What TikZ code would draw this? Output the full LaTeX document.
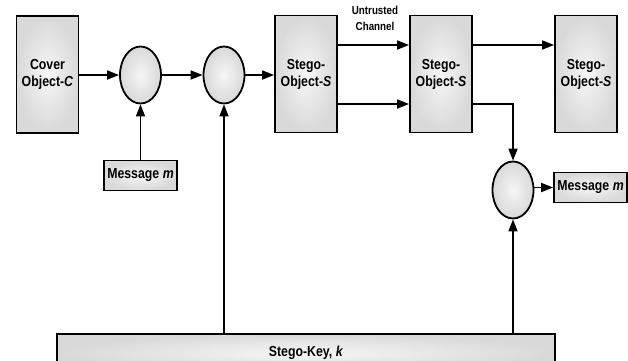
\documentclass[tikz,border=0pt]{standalone}
\usepackage{fontspec}
\setmainfont{Liberation Sans}[FakeStretch=0.85]
\usetikzlibrary{arrows.meta,shapes.geometric,calc}
\tikzset{
  base/.style={draw=black, line width=1.8pt, inner color=gray!7, outer color=gray!30,
    font=\fontsize{14.5}{17}\selectfont\bfseries, align=center, inner sep=0pt},
  tallbox/.style={base, rectangle, minimum width=62pt, minimum height=117pt},
  msgbox/.style={base, rectangle, minimum width=73pt, minimum height=30pt},
  joint/.style={base, ellipse, minimum width=41pt, minimum height=57pt},
  keybar/.style={base, rectangle, minimum width=498pt, minimum height=38pt},
  conn/.style={line width=1.7pt, -{Triangle[length=12pt,width=9pt]}},
}
\begin{document}
\begin{tikzpicture}[x=1pt,y=-1pt]
\useasboundingbox (0,0) rectangle (628,360);
\clip (0,0) rectangle (628,360);
\node[tallbox] (cover) at (47.5,74.5) {Cover\\Object-\textit{C}};
\node[joint] (c1) at (140.5,75) {};
\node[joint] (c2) at (224,75) {};
\node[msgbox] (m1) at (140.5,175.5) {Message \textit{m}};
\node[tallbox] (s1) at (306,74) {Stego-\\Object-\textit{S}};
\node[tallbox] (s2) at (441,74) {Stego-\\Object-\textit{S}};
\node[tallbox] (s3) at (586,74) {Stego-\\Object-\textit{S}};
\node[joint] (c3) at (513,190) {};
\node[msgbox] (m2) at (590.5,187.5) {Message \textit{m}};
\node[keybar] (key) at (306,353) {Stego-Key, \textit{k}};
\node[font=\fontsize{11.5}{16}\selectfont\bfseries, align=center] (ch) at (375,18.5) {Untrusted\\Channel};
\draw[conn] (cover.east |- c1) -- (c1.west);
\draw[conn] (m1.north) -- (c1.south);
\draw[conn] (c1.east) -- (c2.west);
\draw[conn] (c2.east) -- (s1.west |- c2);
\draw[conn] (c2 |- key.north) -- (c2.south);
\draw[conn] ([yshift=29pt]s1.east) -- ([yshift=29pt]s2.west);
\draw[conn] ([yshift=-30pt]s1.east) -- ([yshift=-30pt]s2.west);
\draw[conn] ([yshift=29pt]s2.east) -- ([yshift=29pt]s3.west);
\draw[conn] ([yshift=-30pt]s2.east) -| (c3.north);
\draw[conn] (c3.east |- m2) -- (m2.west);
\draw[conn] (c3 |- key.north) -- (c3.south);
\end{tikzpicture}
\end{document}
